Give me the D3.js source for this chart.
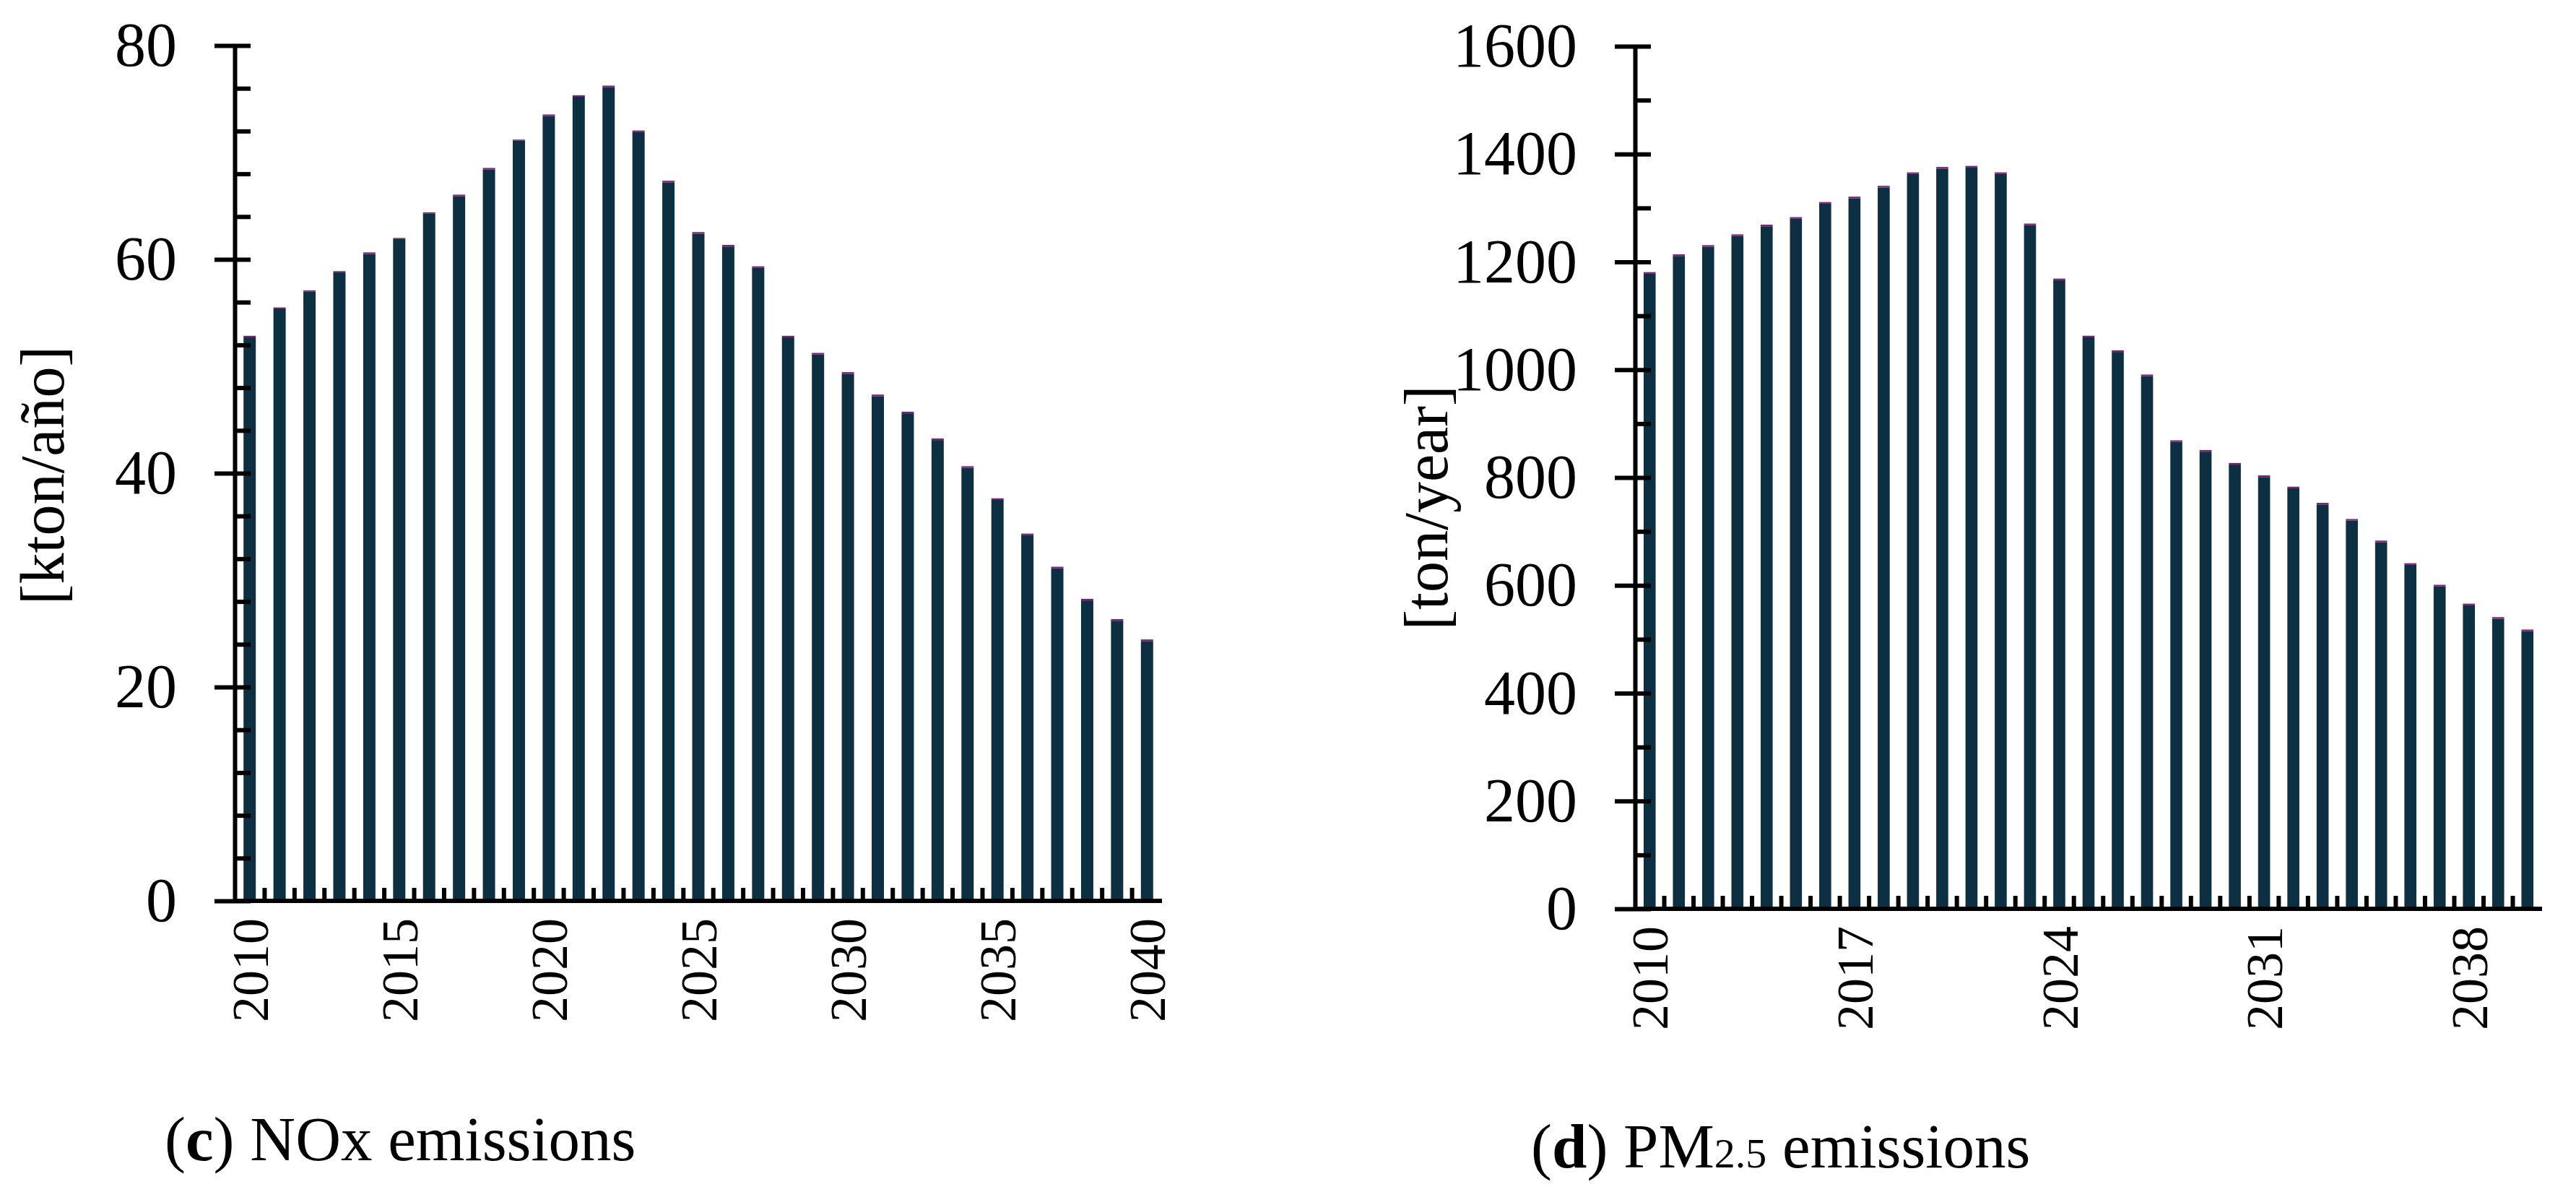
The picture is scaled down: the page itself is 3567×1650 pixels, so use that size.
<!DOCTYPE html>
<html>
<head>
<meta charset="utf-8">
<script src="https://cdn.jsdelivr.net/npm/d3@7/dist/d3.min.js"></script>
<style>
  body { margin: 0; background: #fff; }
  text { font-family: "Liberation Serif", "DejaVu Serif", serif; fill: #000; }
</style>
</head>
<body>
<script>
var width = 3567;
var height = 1650;

var years = [2010, 2011, 2012, 2013, 2014, 2015, 2016, 2017, 2018, 2019, 2020,
             2021, 2022, 2023, 2024, 2025, 2026, 2027, 2028, 2029, 2030,
             2031, 2032, 2033, 2034, 2035, 2036, 2037, 2038, 2039, 2040];

// NOx, kton/year (main part + thin "other" cap)
var noxMain = [52.7, 55.4, 57.0, 58.8, 60.5, 61.9, 64.3, 65.9, 68.4, 71.1, 73.4,
               75.2, 76.1, 71.9, 67.2, 62.4, 61.2, 59.2, 52.7, 51.1, 49.3,
               47.2, 45.6, 43.1, 40.5, 37.5, 34.2, 31.1, 28.1, 26.2, 24.3];
var noxOther = [0.15, 0.1, 0.1, 0.1, 0.15, 0.1, 0.1, 0.15, 0.15, 0.1, 0.15,
                0.15, 0.15, 0.15, 0.15, 0.15, 0.15, 0.15, 0.15, 0.15, 0.15,
                0.15, 0.15, 0.15, 0.15, 0.15, 0.15, 0.15, 0.15, 0.15, 0.15];

// PM2.5, ton/year
var pmMain = [1178, 1211, 1228, 1248, 1266, 1280, 1308, 1318, 1338, 1363, 1373,
              1375, 1363, 1268, 1166, 1060, 1033, 988, 866, 848, 824,
              801, 780, 750, 720, 680, 638, 598, 563, 538, 515];
var pmOther = [3, 3, 3, 3, 3, 3, 3, 3, 3, 3, 3,
               3, 3, 3, 3, 3, 3, 3, 3, 3, 3,
               3, 3, 3, 3, 3, 3, 3, 3, 3, 3];

var noxTicks = [0, 20, 40, 60, 80];
var pmTicks = [0, 200, 400, 600, 800, 1000, 1200, 1400, 1600];
var noxYearLabels = [2010, 2015, 2020, 2025, 2030, 2035, 2040];
var pmYearLabels = [2010, 2017, 2024, 2031, 2038];

var mainColor = "#0c3042";
var otherColor = "#7b1f78";

var svg = d3.select("body").append("svg").attr("width", width).attr("height", height);

function drawPanel(p) {
    var g = svg.append("g");
    var x = d3.scaleBand().domain(years).range([p.left, p.right]).paddingInner(0.59).paddingOuter(0.295);
    var y = d3.scaleLinear().domain([0, p.max]).range([p.bottom, p.top]);

    var rows = years.map(function (yr, i) { return { year: yr, main: p.main[i], other: p.other[i] }; });
    var stack = d3.stack().keys(["main", "other"])(rows);
    var colors = [mainColor, otherColor];

    g.selectAll("g.series").data(stack).enter().append("g")
        .attr("fill", function (d, i) { return colors[i]; })
        .selectAll("rect").data(function (d) { return d; }).enter().append("rect")
        .attr("x", function (d) { return x(d.data.year); })
        .attr("y", function (d) { return y(d[1]); })
        .attr("width", x.bandwidth())
        .attr("height", function (d) { return y(d[0]) - y(d[1]); });

    // minor ticks inside
    var minor = d3.range(0, p.max + 0.001, p.minorStep);
    var inner = g.append("g").attr("transform", "translate(" + p.left + ",0)")
        .call(d3.axisRight(y).tickValues(minor).tickSize(22).tickSizeOuter(0).tickFormat(""));
    inner.select(".domain").remove();
    inner.selectAll(".tick line").attr("stroke-width", 6).attr("stroke", "#000");

    // major ticks cross the axis
    var yAx = g.append("g").attr("transform", "translate(" + p.left + ",0)")
        .call(d3.axisLeft(y).tickValues(p.ticks).tickSize(28).tickSizeOuter(0)
            .tickPadding(52).tickFormat(d3.format("d")));
    yAx.select(".domain").attr("stroke-width", 6).attr("stroke", "#000");
    yAx.selectAll(".tick line").attr("stroke-width", 6).attr("stroke", "#000");
    yAx.selectAll(".tick text").attr("font-size", 86).attr("font-family", "Liberation Serif");

    // x axis
    var xAx = g.append("g").attr("transform", "translate(0," + p.bottom + ")")
        .call(d3.axisBottom(x).tickValues(p.yearLabels).tickSize(0).tickPadding(20));
    xAx.select(".domain").attr("stroke-width", 6).attr("stroke", "#000")
        .attr("d", "M" + p.left + ",0H" + p.right);
    xAx.selectAll(".tick text")
        .attr("font-size", 72)
        .attr("font-family", "Liberation Serif")
        .attr("transform", "rotate(-90)")
        .attr("text-anchor", "end")
        .attr("dy", "0.35em")
        .attr("x", -24)
        .attr("y", 0);

    // small ticks between bars along the base
    g.selectAll("line.xtick").data(years.slice(1)).enter().append("line")
        .attr("x1", function (d) { return x(d) - x.step() * x.paddingInner() / 2; })
        .attr("x2", function (d) { return x(d) - x.step() * x.paddingInner() / 2; })
        .attr("y1", p.bottom)
        .attr("y2", p.bottom - 18)
        .attr("stroke", "#000")
        .attr("stroke-width", 6);

    // y title
    g.append("text")
        .attr("transform", "translate(" + p.titleX + "," + p.titleY + ") rotate(-90)")
        .attr("text-anchor", "middle")
        .attr("font-size", 86)
        .text(p.title);

    // caption
    var cap = g.append("text").attr("x", p.capX).attr("y", p.capY).attr("font-size", 87);
    cap.append("tspan").text("(");
    cap.append("tspan").attr("font-weight", "bold").text(p.capLetter);
    cap.append("tspan").text(") " + p.capText);
    if (p.capSub) {
        cap.append("tspan").attr("font-size", 58).text(p.capSub);
        cap.append("tspan").text(p.capRest);
    }
}

drawPanel({
    left: 325, right: 1609, top: 63, bottom: 1247, max: 80, minorStep: 4,
    ticks: noxTicks, yearLabels: noxYearLabels, main: noxMain, other: noxOther,
    title: "[kton/año]", titleX: 88, titleY: 658,
    capX: 228, capY: 1606, capLetter: "c", capText: "NOx emissions"
});

drawPanel({
    left: 2264, right: 3520, top: 64, bottom: 1258, max: 1600, minorStep: 100,
    ticks: pmTicks, yearLabels: pmYearLabels, main: pmMain, other: pmOther,
    title: "[ton/year]", titleX: 2004, titleY: 703,
    capX: 2120, capY: 1616, capLetter: "d", capText: "PM", capSub: "2.5", capRest: " emissions"
});
</script>
</body>
</html>
